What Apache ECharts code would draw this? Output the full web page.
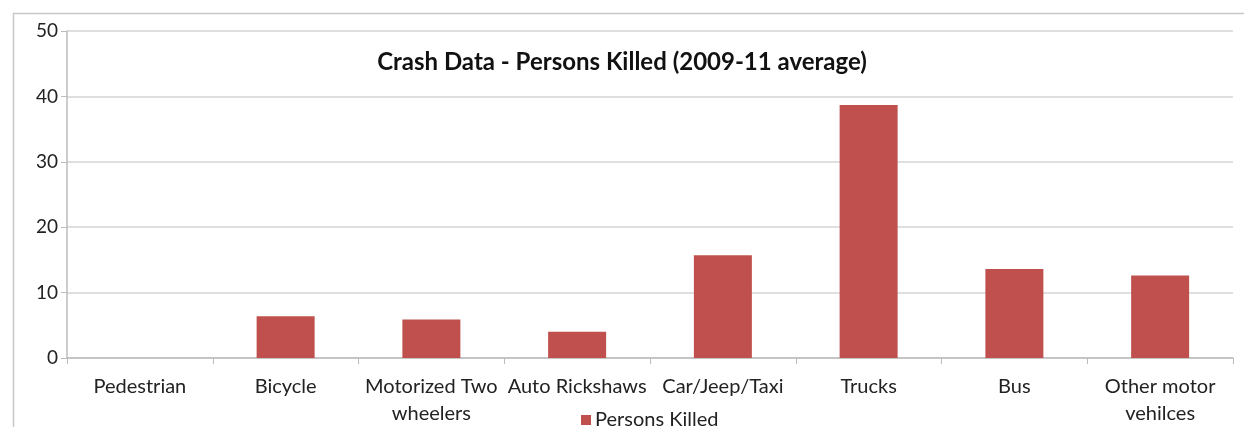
<!DOCTYPE html>
<html>
<head>
<meta charset="utf-8">
<script src="https://cdn.jsdelivr.net/npm/echarts@6/dist/echarts.min.js"></script>
<style>
  html, body { margin: 0; padding: 0; background: #fff; }
  #crash_bar { width: 1244px; height: 427px; }
</style>
</head>
<body>
<div id="crash_bar"></div>
<script>
// categories on the x axis
var categories = ['Pedestrian', 'Bicycle', 'Motorized Two\nwheelers', 'Auto Rickshaws',
                  'Car/Jeep/Taxi', 'Trucks', 'Bus', 'Other motor\nvehilces'];
// persons killed, 2009-11 average
var personsKilled = [0, 6.4, 5.9, 4.0, 15.7, 38.7, 13.6, 12.6];
var yTicks = [0, 10, 20, 30, 40, 50];

var myChart = echarts.init(document.getElementById('crash_bar'));
var font = 'Lato, "Open Sans", sans-serif';

var options = {
    animation: false,
    backgroundColor: '#fff',
    // outer chart-area frame
    graphic: [{
        type: 'rect',
        left: 11, top: 11,
        shape: { width: 1300, height: 500 },
        style: { fill: 'none', stroke: '#c8c8c8', lineWidth: 1.5 },
        silent: true
    }],
    title: {
        text: 'Crash Data - Persons Killed (2009-11 average)',
        left: 'center',
        top: 45,
        textStyle: { color: '#111', fontSize: 24, fontWeight: 'bold', fontFamily: font }
    },
    legend: {
        data: ['Persons Killed'],
        left: 576,
        top: 405,
        itemWidth: 10,
        itemHeight: 10,
        itemGap: 4,
        icon: 'rect',
        textStyle: { color: '#222', fontSize: 20, fontFamily: font, padding: [0, 0, 0, -1] }
    },
    grid: { left: 67, right: 11, top: 31, bottom: 64, containLabel: false },
    xAxis: {
        type: 'category',
        data: categories,
        axisLine: { lineStyle: { color: '#bdbdbd', width: 1.5 } },
        axisTick: { show: true, alignWithLabel: false, length: 6, lineStyle: { color: '#bdbdbd' } },
        axisLabel: { color: '#222', fontSize: 20, fontFamily: font, margin: 15, lineHeight: 27, interval: 0 }
    },
    yAxis: {
        type: 'value',
        min: yTicks[0],
        max: yTicks[yTicks.length - 1],
        interval: 10,
        axisLine: { show: true, lineStyle: { color: '#bdbdbd', width: 1.5 } },
        axisTick: { show: true, length: 6, lineStyle: { color: '#bdbdbd' } },
        axisLabel: { color: '#222', fontSize: 19, fontFamily: font, margin: 9 },
        splitLine: { lineStyle: { color: '#d4d4d4', width: 1.5 } }
    },
    series: [{
        name: 'Persons Killed',
        type: 'bar',
        data: personsKilled,
        barWidth: 58,
        itemStyle: { color: '#C0504D' }
    }]
};
myChart.setOption(options);
</script>
</body>
</html>
